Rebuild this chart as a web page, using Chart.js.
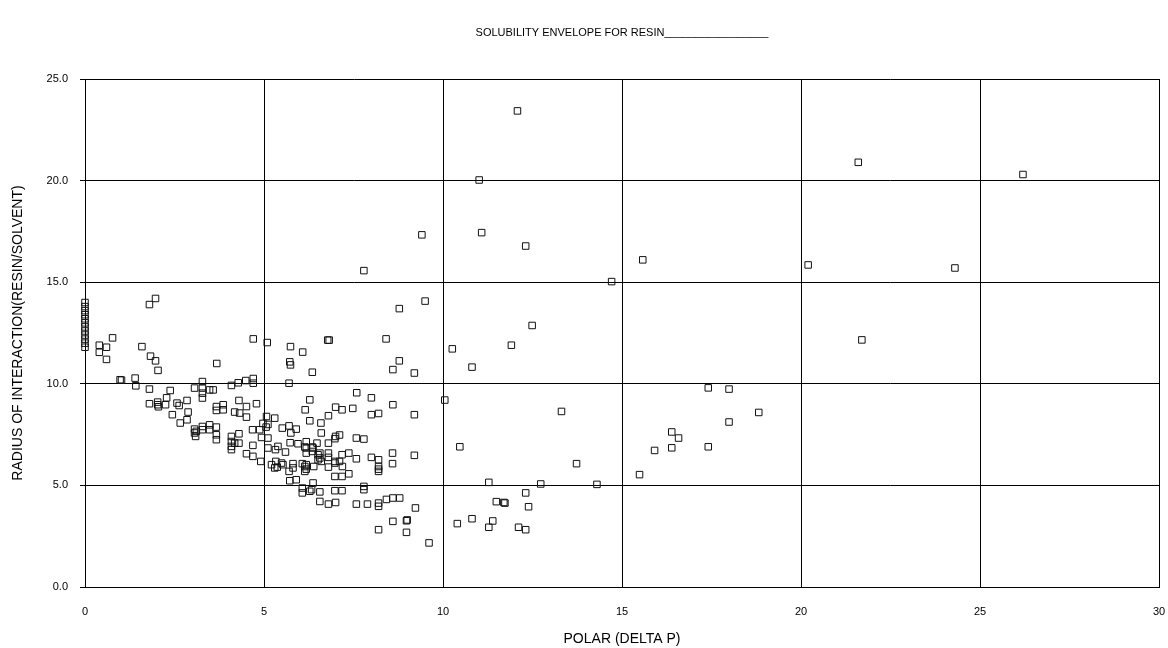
<!DOCTYPE html>
<html>
<head>
<meta charset="utf-8">
<script src="https://cdn.jsdelivr.net/npm/chart.js@4.4.0/dist/chart.umd.min.js"></script>
<style>
html,body{margin:0;padding:0;background:#fff;}
#wrap{width:1168px;height:648px;}
</style>
</head>
<body>
<div id="wrap"><canvas id="c" width="1168" height="648"></canvas></div>
<script>
// ---- Data ----
const chartTitle = "SOLUBILITY ENVELOPE FOR RESIN_________________";
const xAxisTitle = "POLAR (DELTA P)";
const yAxisTitle = "RADIUS OF INTERACTION(RESIN/SOLVENT)";
const xTicks = [0, 5, 10, 15, 20, 25, 30];
const yTicks = [0, 5, 10, 15, 20, 25];

// polar (delta P) values
const polarValues = [
  0,0,0,0,0,0,0,0,0,0,0,0,
  0.4,0.6,0.4,0.6,0.77,
  1.59,1.8,1.97,1.83,1.97,2.04,
  0.98,1.02,1.4,1.42,
  1.8,1.8,2.03,2.03,2.05,2.25,2.28,2.38,
  2.57,2.63,2.85,2.44,2.88,2.85,2.66,
  3.68,
  3.06,3.28,3.28,3.28,3.28,3.48,3.58,
  3.67,3.86,3.67,3.86,
  4.09,4.28,4.49,4.7,4.7,
  4.3,4.51,4.79,4.18,4.32,4.51,
  3.06,3.06,3.11,3.28,3.28,3.48,3.48,3.67,3.67,3.67,3.09,
  4.09,4.09,4.09,4.09,4.3,4.3,4.18,
  4.51,4.69,4.91,4.69,
  4.68,4.88,4.93,5.07,5.3,4.97,5.11,5.06,
  5.11,5.11,5.32,5.39,5.6,5.73,5.9,5.95,
  5.51,5.7,5.75,
  5.21,5.33,5.37,5.53,5.49,5.3,5.7,5.81,5.81,5.72,5.9,
  6.28,6.59,6.6,7.0,7.11,6.98,6.8,6.48,6.18,
  7.58,7.79,
  6.14,6.35,6.18,6.37,6.18,6.35,6.56,
  6.56,6.8,6.8,6.98,6.98,7.11,6.8,6.51,6.51,6.6,
  6.07,6.14,6.18,6.14,6.39,6.18,
  7.18,7.37,7.58,8.0,8.2,8.59,8.59,
  7.19,7.37,6.98,7.18,8.2,8.2,8.2,
  6.07,6.07,6.28,6.37,6.33,6.56,
  6.98,7.18,7.79,7.79,
  7.0,6.8,6.56,7.58,7.89,8.2,8.2,
  8.42,8.6,8.79,
  8.2,8.6,8.98,9.0,8.98,
  9.23,9.61,
  6.28,6.15,7.0,7.18,7.48,6.8,8.0,8.2,8.6,7.59,8.0,
  5.7,5.72,5.74,6.35,8.78,8.6,
  4.7,5.09,5.74,6.08,6.78,6.82,8.41,8.78,7.79,
  9.2,9.41,9.5,
  10.26,11.91,10.81,10.05,13.31,9.2,10.47,9.2,13.73,11.28,12.73,12.31,11.49,11.7,11.73,12.39,10.4,10.81,11.39,11.28,12.11,12.31,
  11.01,11.08,12.31,14.71,12.49,12.08,15.58,
  14.3,15.49,15.91,16.39,16.58,16.39,17.41,17.99,17.99,18.82,17.41,
  20.2,21.6,21.7,24.3,26.2
];

// radius of interaction values
const radiusValues = [
  14.0,13.8,13.6,13.4,13.2,13.0,12.8,12.6,12.4,12.2,12.0,11.8,
  11.9,11.8,11.55,11.2,12.26,
  11.83,13.9,14.2,11.36,11.13,10.66,
  10.2,10.18,10.28,9.9,
  9.74,9.02,9.1,8.97,8.87,8.97,9.31,9.67,
  9.05,8.93,9.18,8.48,8.61,8.23,8.07,
  11.0,
  9.79,10.11,9.79,9.54,9.3,9.7,9.7,
  8.88,8.97,8.69,8.72,
  9.92,10.05,10.16,10.26,10.03,
  9.18,8.88,9.02,8.61,8.56,8.36,
  7.77,7.58,7.66,7.9,7.74,7.98,7.74,7.87,7.49,7.25,7.41,
  7.41,7.16,6.92,6.76,7.54,7.08,7.08,
  6.56,6.43,6.18,6.97,
  7.74,7.74,7.36,8.39,8.31,8.05,8.0,7.87,
  7.33,6.84,6.76,6.92,6.64,7.1,7.77,7.05,
  7.82,7.93,7.58,
  6.02,6.18,5.9,6.02,6.1,5.86,5.69,6.07,5.86,5.23,5.28,
  8.18,8.07,7.58,7.41,7.48,7.3,7.08,7.08,7.15,
  7.33,7.28,
  6.89,6.89,6.84,6.84,6.59,6.67,6.59,
  6.35,6.59,6.38,6.18,6.1,6.18,5.9,6.51,6.26,6.18,
  6.07,5.93,5.8,5.69,5.93,6.02,
  6.51,6.59,6.31,6.38,6.26,6.59,6.07,
  5.93,5.57,5.44,5.44,5.93,5.8,5.69,
  4.87,4.63,4.71,5.12,4.79,4.68,
  4.74,4.74,4.95,4.79,
  4.16,4.08,4.21,4.08,4.08,4.13,3.97,
  4.31,4.38,4.38,
  2.82,3.23,3.26,3.3,2.69,
  3.89,2.17,
  9.21,8.72,8.85,8.72,8.79,8.43,8.48,8.54,8.97,9.56,9.31,
  10.03,11.08,10.93,10.57,11.13,10.7,
  12.21,12.03,11.83,11.56,12.15,12.15,12.21,13.7,15.57,
  10.53,17.33,14.07,
  11.72,11.9,10.82,9.2,8.64,8.48,6.9,6.48,6.07,5.15,5.07,4.63,4.2,4.16,4.13,3.95,3.12,3.36,3.25,2.94,2.94,2.82,
  20.03,17.44,16.78,15.03,12.87,23.43,16.1,
  5.05,5.53,6.72,7.63,7.33,6.85,9.8,9.74,8.12,8.59,6.9,
  15.85,20.9,12.16,15.7,20.3
];

const points = polarValues.map((x, i) => ({ x: x, y: radiusValues[i] }));
const FONT = "'Liberation Sans', Arial, Helvetica, sans-serif";

new Chart(document.getElementById('c').getContext('2d'), {
  type: 'scatter',
  data: {
    datasets: [{
      data: points,
      pointStyle: 'rect',
      pointRadius: 4.6,
      pointBorderWidth: 1,
      pointBorderColor: '#111',
      pointBackgroundColor: 'rgba(0,0,0,0)',
      clip: false
    }]
  },
  options: {
    responsive: false,
    animation: false,
    events: [],
    layout: { padding: { left: 0, right: 9, top: 0, bottom: 0 } },
    plugins: {
      legend: { display: false },
      tooltip: { enabled: false },
      title: {
        display: true,
        text: chartTitle,
        fullSize: false,
        color: '#000',
        font: { family: FONT, size: 11, weight: 'normal' },
        padding: { top: 26, bottom: 39.8 }
      }
    },
    scales: {
      x: {
        type: 'linear',
        min: xTicks[0],
        max: xTicks[xTicks.length - 1],
        afterBuildTicks: (s) => { s.ticks = xTicks.map(v => ({ value: v })); },
        afterFit: (s) => { s.height = 61; s.paddingLeft = 0; s.paddingRight = 0; },
        grid: { color: '#000', lineWidth: 1, drawTicks: false },
        border: { color: '#000', width: 1 },
        ticks: {
          color: '#000',
          font: { family: FONT, size: 11 },
          padding: 18,
          maxRotation: 0,
          callback: (v) => String(v)
        },
        title: {
          display: true,
          text: xAxisTitle,
          color: '#000',
          font: { family: FONT, size: 14 },
          padding: { top: 2, bottom: 0 }
        }
      },
      y: {
        type: 'linear',
        min: yTicks[0],
        max: yTicks[yTicks.length - 1],
        afterBuildTicks: (s) => { s.ticks = yTicks.map(v => ({ value: v })); },
        afterFit: (s) => { s.width = 85; },
        grid: { color: '#000', lineWidth: 1, drawTicks: true, tickLength: 5 },
        border: { color: '#000', width: 1 },
        ticks: {
          color: '#000',
          font: { family: FONT, size: 11 },
          padding: 12,
          callback: (v) => Number(v).toFixed(1)
        },
        title: {
          display: true,
          text: yAxisTitle,
          color: '#000',
          font: { family: FONT, size: 14 },
          padding: { top: 9.6, bottom: 2 }
        }
      }
    }
  }
});
</script>
</body>
</html>
